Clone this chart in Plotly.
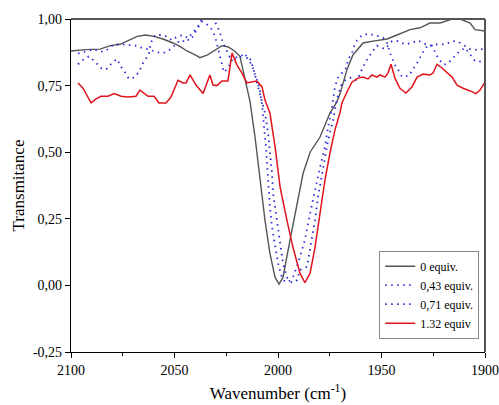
import plotly.graph_objects as go

# 0 equiv.
wn_0 = [2100, 2093, 2086, 2081, 2076.3, 2072, 2068, 2064, 2060, 2055.6, 2050.7, 2047, 2044,
        2040, 2037.7, 2034, 2030, 2027, 2024, 2021, 2018.4, 2015.9, 2013.5, 2011.1, 2008.7,
        2006.3, 2003.9, 2001.4, 1999.5, 1997.6, 1994.2, 1990.8, 1987.9, 1984.5, 1979.7,
        1974.9, 1971.5, 1970, 1966.7, 1963.8, 1958.9, 1954.1, 1947.3, 1942.5, 1936.2,
        1931.4, 1926.6, 1921.7, 1915.9, 1912, 1907.2, 1904.8, 1900]
t_0 = [0.88, 0.885, 0.887, 0.90, 0.905, 0.92, 0.935, 0.94, 0.935, 0.925, 0.91, 0.895, 0.88,
       0.865, 0.855, 0.865, 0.885, 0.90, 0.895, 0.88, 0.86, 0.77, 0.69, 0.557, 0.40,
       0.245, 0.12, 0.03, 0.005, 0.03, 0.17, 0.31, 0.42, 0.50, 0.557,
       0.647, 0.69, 0.72, 0.81, 0.865, 0.91, 0.917, 0.925, 0.94, 0.96,
       0.967, 0.985, 0.985, 1.0, 1.0, 0.985, 0.96, 0.955]

# 0,43 equiv.
wn_043 = [2096.6, 2092.8, 2088.9, 2086, 2083.1, 2079.7, 2076.3, 2072.9, 2069.6, 2065.2, 2062.3,
          2058.9, 2055.6, 2053.1, 2050.7, 2048.3, 2046.4, 2044.9, 2042.5, 2040.6, 2039.1,
          2036.7, 2035.3, 2033.8, 2031.9, 2030.4, 2029, 2028, 2027.1, 2026.1, 2024.2, 2021.7,
          2019.8, 2016.9, 2015, 2012.6, 2011.1, 2010.1, 2008.7, 2007.7, 2006.8, 2005.8,
          2004.8, 2003.9, 2002.9, 2001.4, 2000, 1998.1, 1996.6, 1994.7, 1992.8, 1990.3,
          1987, 1984.5, 1982.1, 1979.7, 1977.3, 1975.8, 1973.9, 1972.5, 1971, 1967.1,
          1966.2, 1964.3, 1963.3, 1961.8, 1959.4, 1956, 1952.2, 1949.3, 1947.3, 1945.4,
          1943.5, 1942, 1940.1, 1936.7, 1934.8, 1932.8, 1930.9, 1928.9, 1927.5, 1925.6,
          1922.7, 1920.3, 1918.4, 1916.9, 1915, 1912.6, 1909.7, 1907.2, 1904.8, 1901.4, 1900]
t_043 = [0.871, 0.877, 0.886, 0.877, 0.881, 0.902, 0.906, 0.902, 0.902, 0.89, 0.886,
         0.876, 0.872, 0.88, 0.895, 0.914, 0.91, 0.925, 0.92, 0.94, 0.962,
         0.99, 0.985, 0.977, 0.96, 0.934, 0.89, 0.857, 0.827, 0.80, 0.816, 0.854,
         0.857, 0.865, 0.854, 0.827, 0.79, 0.77, 0.73, 0.68, 0.60, 0.52,
         0.40, 0.294, 0.22, 0.144, 0.084, 0.03, 0.013, 0.015, 0.03, 0.084,
         0.17, 0.27, 0.36, 0.444, 0.52, 0.595, 0.67, 0.745, 0.78, 0.816,
         0.846, 0.872, 0.896, 0.92, 0.94, 0.944, 0.937, 0.93, 0.91, 0.862,
         0.827, 0.81, 0.783, 0.787, 0.812, 0.835, 0.862, 0.89, 0.90, 0.90,
         0.854, 0.83, 0.83, 0.842, 0.858, 0.877, 0.892, 0.865, 0.842, 0.84, 0.84]

# 0,71 equiv.
wn_071 = [2096.6, 2093.7, 2091.3, 2088.4, 2085.5, 2083.1, 2080.2, 2077.8, 2075.8, 2073.9, 2072,
          2069.6, 2067.2, 2065.2, 2063.3, 2062.3, 2061.4, 2059.4, 2056.5, 2053.6, 2051.2,
          2048.8, 2045.9, 2043.5, 2041.1, 2039.1, 2036.7, 2033.8, 2031.4, 2029.5, 2028,
          2026.6, 2024.6, 2023.2, 2020.8, 2018.4, 2015.9, 2013.5, 2012.1, 2011.1, 2009.7,
          2008.7, 2006.3, 2004.8, 2003.9, 2002.9, 2002.4, 2000.5, 1999, 1997.6, 1995.7,
          1993.2, 1990.8, 1989.4, 1986, 1983.6, 1982.1, 1980.7, 1978.7, 1977.3, 1975.8,
          1973.4, 1971.5, 1969.6, 1967.6, 1964.8, 1961.8, 1958.9, 1956.5, 1954.1, 1952.2,
          1948.3, 1944.9, 1942, 1938.6, 1935.3, 1932.4, 1930, 1926.6, 1923.2, 1919.3, 1915.5,
          1913, 1907.2, 1903.9, 1901]
t_071 = [0.83, 0.85, 0.86, 0.84, 0.816, 0.81, 0.835, 0.85, 0.82, 0.80, 0.775,
         0.78, 0.80, 0.835, 0.857, 0.872, 0.911, 0.94, 0.94, 0.934, 0.92,
         0.934, 0.94, 0.928, 0.95, 0.966, 1.0, 1.0, 1.0, 0.977, 0.947,
         0.91, 0.88, 0.857, 0.85, 0.857, 0.865, 0.85, 0.82, 0.79, 0.75,
         0.715, 0.647, 0.572, 0.497, 0.42, 0.347, 0.245, 0.16, 0.084, 0.03,
         0.01, 0.02, 0.058, 0.07, 0.17, 0.245, 0.33, 0.42, 0.48, 0.546,
         0.62, 0.70, 0.75, 0.77, 0.78, 0.77, 0.82, 0.854, 0.88, 0.90,
         0.887, 0.917, 0.917, 0.905, 0.91, 0.92, 0.91, 0.90, 0.905, 0.905, 0.917,
         0.915, 0.887, 0.884, 0.887]

# 1.32 equiv
wn_132 = [2096.6, 2094.2, 2090.3, 2087.9, 2085.5, 2082.1, 2079.2, 2075.8, 2072.5, 2068.6,
          2066.7, 2062.8, 2059.9, 2057.5, 2054.1, 2051.7, 2048.3, 2045.9, 2044.4, 2042.5,
          2039.6, 2037.2, 2036.2, 2032.9, 2031.4, 2029.5, 2027.1, 2024.2, 2022.2, 2019.8,
          2017.4, 2015, 2012.6, 2010.5, 2009.7, 2007.7, 2006.3, 2003.9, 2001.4, 1999,
          1995.7, 1992.8, 1989.4, 1987, 1984.5, 1982.1, 1979.7, 1977.3, 1974.9, 1972.5,
          1970, 1969.1, 1966.7, 1964.3, 1961.4, 1958.9, 1956.5, 1954.6, 1952.2, 1950.7,
          1948.3, 1946.9, 1945.4, 1943.5, 1941.1, 1938.2, 1935.3, 1932.8, 1929.9, 1926.6,
          1925.1, 1923.2, 1920.8, 1918.4, 1915.9, 1913.5, 1910.6, 1907.2, 1904.3, 1902.4, 1900]
t_132 = [0.76, 0.74, 0.685, 0.70, 0.71, 0.71, 0.72, 0.71, 0.707, 0.71,
         0.733, 0.71, 0.71, 0.685, 0.685, 0.707, 0.77, 0.76, 0.76, 0.79,
         0.752, 0.726, 0.72, 0.79, 0.752, 0.75, 0.767, 0.767, 0.872, 0.827,
         0.797, 0.76, 0.763, 0.767, 0.763, 0.745, 0.696, 0.647, 0.52, 0.37,
         0.245, 0.144, 0.046, 0.01, 0.046, 0.144, 0.27, 0.396, 0.497, 0.583,
         0.65, 0.685, 0.726, 0.763, 0.778, 0.782, 0.775, 0.79, 0.782, 0.79,
         0.782, 0.797, 0.83, 0.778, 0.74, 0.722, 0.745, 0.782, 0.793, 0.79,
         0.797, 0.83, 0.816, 0.80, 0.782, 0.752, 0.74, 0.73, 0.72, 0.733, 0.763]

x_ticks = [2100, 2050, 2000, 1950, 1900]
y_ticks = [-0.25, 0, 0.25, 0.5, 0.75, 1.0]
y_labels = ["-0,25", "0,00", "0,25", "0,50", "0,75", "1,00"]

font = "Times New Roman, Liberation Serif, serif"

fig = go.Figure()
fig.add_trace(go.Scatter(x=wn_0, y=t_0, mode="lines", name="0 equiv.",
                         line=dict(color="#555555", width=1.4)))
fig.add_trace(go.Scatter(x=wn_043, y=t_043, mode="lines", name="0,43 equiv.",
                         line=dict(color="#2e2ee0", width=1.8, dash="1.5px,4.5px")))
fig.add_trace(go.Scatter(x=wn_071, y=t_071, mode="lines", name="0,71 equiv.",
                         line=dict(color="#2424c8", width=1.8, dash="1.5px,4.5px")))
fig.add_trace(go.Scatter(x=wn_132, y=t_132, mode="lines", name="1.32 equiv",
                         line=dict(color="#e0141c", width=1.5)))

fig.update_layout(
    width=499, height=405,
    margin=dict(l=71, r=14, t=19, b=53, autoexpand=False),
    plot_bgcolor="white", paper_bgcolor="white",
    font=dict(family=font, size=14, color="black"),
    showlegend=True,
    legend=dict(x=0.986, y=0.04, xanchor="right", yanchor="bottom",
                bgcolor="white", bordercolor="#888888", borderwidth=1,
                font=dict(family=font, size=12), tracegroupgap=0,
                itemwidth=30),
    shapes=[
        dict(type="line", xref="paper", yref="paper", x0=0, x1=1, y0=1, y1=1,
             line=dict(color="#555555", width=2)),
        dict(type="line", xref="paper", yref="paper", x0=1, x1=1, y0=0, y1=1,
             line=dict(color="#555555", width=2)),
    ],
)

fig.update_xaxes(
    range=[2100, 1900], tickvals=x_ticks, ticks="outside", ticklen=5, tickwidth=1,
    tickcolor="black", showline=True, linecolor="black", linewidth=1.3,
    showgrid=False, zeroline=False, automargin=False,
    minor=dict(dtick=25, ticks="outside", ticklen=3, tickcolor="black", tickwidth=1),
    tickfont=dict(family=font, size=14),
    title=dict(text="Wavenumber (cm<sup>-1</sup>)", font=dict(family=font, size=17), standoff=10),
)
fig.update_yaxes(
    range=[-0.25, 1.0], tickvals=y_ticks, ticktext=y_labels, ticks="outside", ticklen=5,
    tickwidth=1, tickcolor="black", showline=True, linecolor="black", linewidth=1.3,
    showgrid=False, zeroline=False, automargin=False,
    tickfont=dict(family=font, size=14),
    title=dict(text="Transmitance", font=dict(family=font, size=17), standoff=3),
)

fig.write_html("out.html", config={"displayModeBar": False},
               post_script="document.body.style.margin='0px';")
